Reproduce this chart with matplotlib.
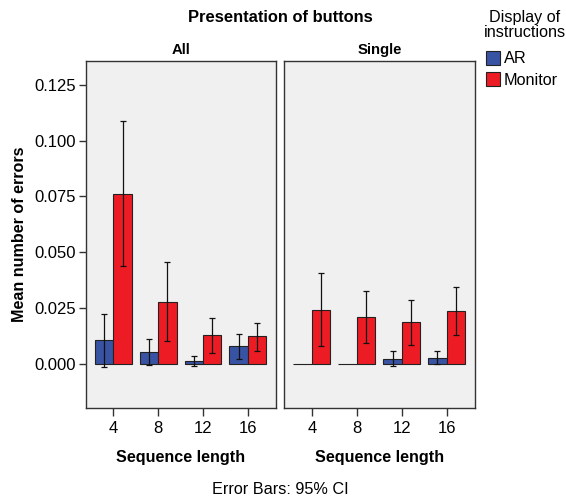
import matplotlib
matplotlib.use("Agg")
import matplotlib.pyplot as plt
import numpy as np
from matplotlib.patches import Patch

plt.rcParams['font.family'] = ['Liberation Sans', 'DejaVu Sans']

categories = ["4", "8", "12", "16"]
panels = ["All", "Single"]
series = ["AR", "Monitor"]

# means
all_ar = [0.0105, 0.0052, 0.0012, 0.0079]
all_mon = [0.0763, 0.0276, 0.0127, 0.0122]
single_ar = [0.0, 0.0, 0.0022, 0.0027]
single_mon = [0.0242, 0.0208, 0.0185, 0.0235]

# 95% CI bounds
all_ar_lo = [-0.0015, -0.0007, -0.0012, 0.0022]
all_ar_hi = [0.0223, 0.0111, 0.0036, 0.0134]
all_mon_lo = [0.0436, 0.0100, 0.0049, 0.0058]
all_mon_hi = [0.1089, 0.0455, 0.0206, 0.0184]
single_ar_lo = [np.nan, np.nan, -0.0010, -0.0003]
single_ar_hi = [np.nan, np.nan, 0.0057, 0.0057]
single_mon_lo = [0.0081, 0.0094, 0.0085, 0.0127]
single_mon_hi = [0.0406, 0.0324, 0.0287, 0.0343]

yticks = [0.000, 0.025, 0.050, 0.075, 0.100, 0.125]

colors = {"AR": "#3953a4", "Monitor": "#ed1c24"}

W, H = 566, 500
fig = plt.figure(figsize=(W / 100, H / 100), dpi=100)

def axrect(x0, y0, x1, y1):
    return [x0 / W, 1 - y1 / H, (x1 - x0) / W, (y1 - y0) / H]

ax1 = fig.add_axes(axrect(85.7, 61, 276, 407.5))
ax2 = fig.add_axes(axrect(284, 61, 475, 407.5), sharey=ax1)

data = {
    "All": (all_ar, all_mon, all_ar_lo, all_ar_hi, all_mon_lo, all_mon_hi),
    "Single": (single_ar, single_mon, single_ar_lo, single_ar_hi, single_mon_lo, single_mon_hi),
}

x = np.arange(len(categories))
bw = 0.41
for ax, name in zip([ax1, ax2], panels):
    ar, mon, arlo, arhi, monlo, monhi = data[name]
    ax.set_facecolor("#f0f0f0")
    for vals, lo, hi, off, s in [(ar, arlo, arhi, -bw / 2, "AR"), (mon, monlo, monhi, bw / 2, "Monitor")]:
        vals = np.array(vals)
        ax.bar(x + off, vals, width=bw, color=colors[s], edgecolor="#222222", linewidth=0.8, zorder=2)
        lo = np.array(lo, dtype=float)
        hi = np.array(hi, dtype=float)
        ok = ~np.isnan(lo)
        ax.errorbar(x[ok] + off, vals[ok], yerr=[vals[ok] - lo[ok], hi[ok] - vals[ok]],
                    fmt="none", ecolor="#111111", elinewidth=0.9, capsize=2.5, capthick=0.9, zorder=3)
    ax.set_xlim(-0.62, 3.63)
    ax.set_ylim(-0.0197, 0.1358)
    ax.set_xticks(x)
    ax.set_xticklabels(categories, fontsize=12)
    ax.set_xlabel("Sequence length", fontsize=11.6, fontweight="bold", labelpad=10)
    ax.set_title(name, fontsize=10.7, fontweight="bold", pad=5)
    for sp in ax.spines.values():
        sp.set_color("#333333")
        sp.set_linewidth(1.0)
    ax.tick_params(axis="x", direction="out", length=5.5, width=1, color="#333333", pad=4)

ax1.set_yticks(yticks)
ax1.set_yticklabels([f"{v:.3f}" for v in yticks], fontsize=12)
ax1.tick_params(axis="y", direction="out", length=5, width=1, color="#333333", pad=2)
ax1.set_ylabel("Mean number of errors", fontsize=11.6, fontweight="bold", labelpad=5)
ax2.tick_params(axis="y", left=False, labelleft=False)

fig.text(280 / W, 1 - 17 / H, "Presentation of buttons", ha="center", va="center",
         fontsize=11.9, fontweight="bold")
fig.text(280 / W, 1 - 489 / H, "Error Bars: 95% CI", ha="center", va="center", fontsize=11.7)
fig.text(525 / W, 1 - 25 / H, "Display of\ninstructions", ha="center", va="center",
         fontsize=11.6, linespacing=1.0)

handles = [Patch(facecolor=colors[s], edgecolor="#222222", linewidth=0.8, label=s) for s in series]
fig.legend(handles=handles, loc="upper left", bbox_to_anchor=(486 / W, 1 - 51 / H),
           frameon=False, fontsize=11.7, handlelength=0.86, handleheight=0.92,
           handletextpad=0.25, labelspacing=0.35, borderaxespad=0, borderpad=0)

fig.savefig("out.png", dpi=100)
